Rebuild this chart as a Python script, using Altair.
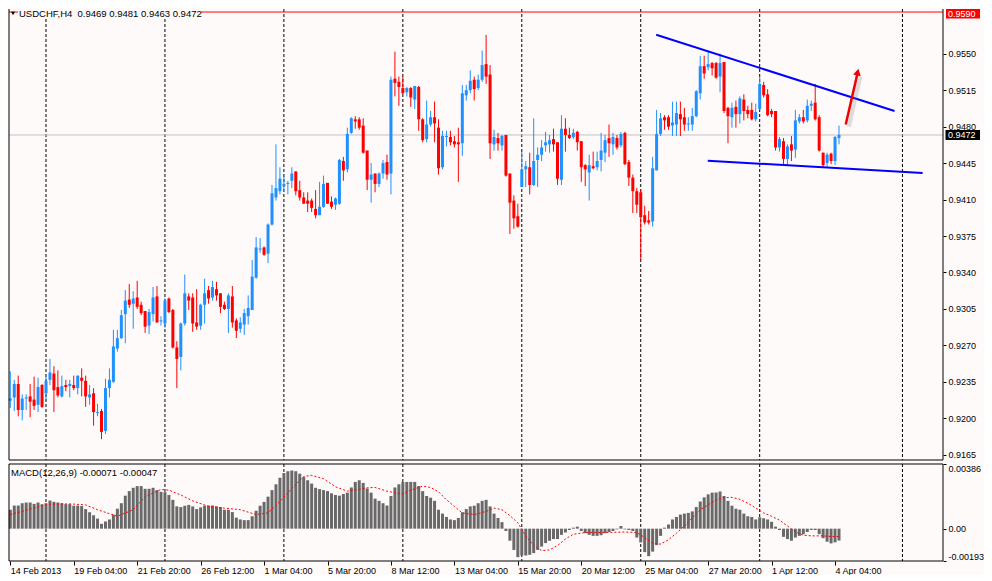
import altair as alt
import pandas as pd

BG = "#FFFAFA"
FONT = "Liberation Sans"
BULL = "#1E90FF"
BEAR = "#FF0000"
HIST = "#696969"

SYMBOL = "USDCHF,H4"
INDICATOR = "MACD(12,26,9)"

OPEN = [
    0.9217, 0.9220, 0.9233, 0.9208, 0.9219, 0.9221, 0.9218, 0.9213, 0.9232, 0.9224,
    0.9237, 0.9243, 0.9230, 0.9221, 0.9232, 0.9231, 0.9232, 0.9229, 0.9239, 0.9236,
    0.9220, 0.9224, 0.9205, 0.9207, 0.9188, 0.9229, 0.9235, 0.9267, 0.9277, 0.9300,
    0.9314, 0.9310, 0.9316, 0.9309, 0.9303, 0.9289, 0.9300, 0.9317, 0.9293, 0.9291,
    0.9315, 0.9304, 0.9268, 0.9259, 0.9291, 0.9317, 0.9316, 0.9292, 0.9289, 0.9309,
    0.9323, 0.9316, 0.9324, 0.9320, 0.9309, 0.9305, 0.9317, 0.9294, 0.9286, 0.9290,
    0.9298, 0.9304, 0.9335, 0.9362, 0.9364, 0.9358, 0.9386, 0.9412, 0.9418, 0.9423,
    0.9425, 0.9428, 0.9437, 0.9419, 0.9412, 0.9409, 0.9409, 0.9401, 0.9395, 0.9403,
    0.9426, 0.9408, 0.9405, 0.9406, 0.9447, 0.9439, 0.9474, 0.9487, 0.9487, 0.9481,
    0.9457, 0.9429, 0.9435, 0.9425, 0.9435, 0.9446, 0.9435, 0.9526, 0.9523, 0.9517,
    0.9513, 0.9517, 0.9506, 0.9518, 0.9487, 0.9468, 0.9482, 0.9489, 0.9479, 0.9441,
    0.9470, 0.9470, 0.9466, 0.9465, 0.9464, 0.9510, 0.9515, 0.9525, 0.9517, 0.9525,
    0.9540, 0.9530, 0.9463, 0.9469, 0.9462, 0.9472, 0.9435, 0.9409, 0.9394, 0.9422,
    0.9439, 0.9441, 0.9424, 0.9448, 0.9453, 0.9462, 0.9463, 0.9468, 0.9465, 0.9429,
    0.9478, 0.9472, 0.9470, 0.9475, 0.9466, 0.9443, 0.9436, 0.9442, 0.9441, 0.9448,
    0.9455, 0.9469, 0.9463, 0.9469, 0.9462, 0.9474, 0.9446, 0.9431, 0.9418, 0.9417,
    0.9395, 0.9390, 0.9389, 0.9438, 0.9473, 0.9489, 0.9489, 0.9481, 0.9482, 0.9492,
    0.9489, 0.9482, 0.9482, 0.9490, 0.9512, 0.9538, 0.9537, 0.9541, 0.9541, 0.9528,
    0.9542, 0.9498, 0.9489, 0.9499, 0.9492, 0.9506, 0.9496, 0.9496, 0.9487, 0.9497,
    0.9520, 0.9511, 0.9495, 0.9495, 0.9460, 0.9466, 0.9449, 0.9463, 0.9458, 0.9485,
    0.9489, 0.9486, 0.9500, 0.9503, 0.9489, 0.9455, 0.9445, 0.9454, 0.9447, 0.9469,
]
HIGH = [
    0.9245, 0.9237, 0.9241, 0.9223, 0.9223, 0.9233, 0.9240, 0.9239, 0.9233, 0.9241,
    0.9257, 0.9250, 0.9246, 0.9241, 0.9237, 0.9237, 0.9241, 0.9241, 0.9248, 0.9241,
    0.9232, 0.9229, 0.9214, 0.9209, 0.9238, 0.9248, 0.9285, 0.9285, 0.9304, 0.9323,
    0.9329, 0.9322, 0.9332, 0.9312, 0.9303, 0.9305, 0.9326, 0.9327, 0.9298, 0.9315,
    0.9316, 0.9305, 0.9274, 0.9292, 0.9338, 0.9320, 0.9320, 0.9324, 0.9310, 0.9334,
    0.9327, 0.9332, 0.9331, 0.9320, 0.9312, 0.9320, 0.9327, 0.9296, 0.9297, 0.9305,
    0.9318, 0.9352, 0.9374, 0.9373, 0.9365, 0.9387, 0.9424, 0.9463, 0.9441, 0.9434,
    0.9428, 0.9441, 0.9437, 0.9428, 0.9417, 0.9417, 0.9411, 0.9419, 0.9427, 0.9433,
    0.9426, 0.9413, 0.9412, 0.9449, 0.9451, 0.9479, 0.9489, 0.9490, 0.9489, 0.9488,
    0.9457, 0.9445, 0.9435, 0.9436, 0.9448, 0.9453, 0.9528, 0.9552, 0.9528, 0.9528,
    0.9518, 0.9518, 0.9519, 0.9519, 0.9488, 0.9505, 0.9495, 0.9504, 0.9487, 0.9476,
    0.9476, 0.9476, 0.9471, 0.9479, 0.9520, 0.9520, 0.9534, 0.9528, 0.9530, 0.9553,
    0.9568, 0.9539, 0.9477, 0.9474, 0.9472, 0.9472, 0.9435, 0.9414, 0.9406, 0.9456,
    0.9447, 0.9455, 0.9488, 0.9460, 0.9467, 0.9475, 0.9472, 0.9478, 0.9465, 0.9491,
    0.9488, 0.9479, 0.9478, 0.9476, 0.9466, 0.9444, 0.9453, 0.9456, 0.9456, 0.9474,
    0.9472, 0.9482, 0.9474, 0.9472, 0.9475, 0.9475, 0.9448, 0.9434, 0.9421, 0.9419,
    0.9404, 0.9399, 0.9451, 0.9496, 0.9493, 0.9491, 0.9491, 0.9504, 0.9504, 0.9504,
    0.9498, 0.9489, 0.9498, 0.9515, 0.9548, 0.9548, 0.9553, 0.9542, 0.9542, 0.9550,
    0.9542, 0.9499, 0.9503, 0.9505, 0.9509, 0.9511, 0.9500, 0.9503, 0.9502, 0.9528,
    0.9523, 0.9516, 0.9497, 0.9495, 0.9470, 0.9469, 0.9463, 0.9471, 0.9496, 0.9492,
    0.9496, 0.9506, 0.9505, 0.9521, 0.9491, 0.9455, 0.9455, 0.9455, 0.9471, 0.9481,
]
LOW = [
    0.9210, 0.9207, 0.9202, 0.9198, 0.9208, 0.9201, 0.9208, 0.9206, 0.9210, 0.9217,
    0.9232, 0.9206, 0.9220, 0.9220, 0.9226, 0.9220, 0.9227, 0.9223, 0.9221, 0.9211,
    0.9213, 0.9193, 0.9202, 0.9180, 0.9185, 0.9220, 0.9234, 0.9264, 0.9276, 0.9272,
    0.9306, 0.9286, 0.9305, 0.9299, 0.9282, 0.9281, 0.9293, 0.9292, 0.9289, 0.9287,
    0.9301, 0.9267, 0.9229, 0.9246, 0.9289, 0.9304, 0.9283, 0.9285, 0.9285, 0.9291,
    0.9310, 0.9313, 0.9313, 0.9301, 0.9304, 0.9282, 0.9287, 0.9277, 0.9282, 0.9280,
    0.9290, 0.9304, 0.9334, 0.9359, 0.9356, 0.9349, 0.9385, 0.9409, 0.9415, 0.9418,
    0.9415, 0.9421, 0.9414, 0.9409, 0.9406, 0.9398, 0.9398, 0.9392, 0.9395, 0.9402,
    0.9406, 0.9401, 0.9400, 0.9405, 0.9428, 0.9436, 0.9473, 0.9478, 0.9477, 0.9454,
    0.9419, 0.9407, 0.9417, 0.9422, 0.9430, 0.9429, 0.9415, 0.9509, 0.9500, 0.9511,
    0.9509, 0.9499, 0.9497, 0.9476, 0.9465, 0.9465, 0.9480, 0.9465, 0.9434, 0.9439,
    0.9461, 0.9462, 0.9460, 0.9427, 0.9452, 0.9505, 0.9512, 0.9505, 0.9515, 0.9523,
    0.9521, 0.9449, 0.9457, 0.9457, 0.9457, 0.9432, 0.9377, 0.9382, 0.9383, 0.9422,
    0.9422, 0.9415, 0.9423, 0.9422, 0.9447, 0.9456, 0.9455, 0.9456, 0.9424, 0.9424,
    0.9456, 0.9468, 0.9468, 0.9457, 0.9427, 0.9423, 0.9409, 0.9439, 0.9438, 0.9437,
    0.9446, 0.9451, 0.9453, 0.9458, 0.9460, 0.9443, 0.9423, 0.9397, 0.9397, 0.9352,
    0.9386, 0.9386, 0.9384, 0.9438, 0.9471, 0.9477, 0.9477, 0.9471, 0.9471, 0.9471,
    0.9476, 0.9476, 0.9476, 0.9489, 0.9506, 0.9526, 0.9534, 0.9529, 0.9526, 0.9513,
    0.9493, 0.9464, 0.9479, 0.9479, 0.9483, 0.9486, 0.9488, 0.9486, 0.9485, 0.9496,
    0.9508, 0.9490, 0.9489, 0.9457, 0.9456, 0.9444, 0.9443, 0.9447, 0.9450, 0.9483,
    0.9483, 0.9484, 0.9495, 0.9486, 0.9456, 0.9441, 0.9441, 0.9444, 0.9443, 0.9463,
]
CLOSE = [
    0.9219, 0.9233, 0.9208, 0.9219, 0.9220, 0.9216, 0.9212, 0.9230, 0.9211, 0.9236,
    0.9244, 0.9227, 0.9222, 0.9231, 0.9230, 0.9233, 0.9229, 0.9241, 0.9236, 0.9221,
    0.9223, 0.9206, 0.9206, 0.9187, 0.9229, 0.9237, 0.9269, 0.9277, 0.9299, 0.9313,
    0.9309, 0.9315, 0.9307, 0.9301, 0.9288, 0.9302, 0.9316, 0.9292, 0.9294, 0.9313,
    0.9302, 0.9268, 0.9257, 0.9291, 0.9320, 0.9313, 0.9291, 0.9288, 0.9309, 0.9320,
    0.9315, 0.9326, 0.9318, 0.9307, 0.9305, 0.9318, 0.9292, 0.9284, 0.9292, 0.9301,
    0.9306, 0.9336, 0.9364, 0.9363, 0.9357, 0.9386, 0.9416, 0.9421, 0.9430, 0.9425,
    0.9426, 0.9435, 0.9418, 0.9412, 0.9406, 0.9406, 0.9402, 0.9395, 0.9403, 0.9425,
    0.9406, 0.9403, 0.9411, 0.9448, 0.9438, 0.9473, 0.9488, 0.9485, 0.9479, 0.9455,
    0.9429, 0.9434, 0.9425, 0.9435, 0.9445, 0.9434, 0.9525, 0.9522, 0.9518, 0.9512,
    0.9517, 0.9508, 0.9519, 0.9487, 0.9467, 0.9482, 0.9489, 0.9483, 0.9440, 0.9471,
    0.9471, 0.9465, 0.9463, 0.9463, 0.9512, 0.9515, 0.9524, 0.9516, 0.9525, 0.9539,
    0.9528, 0.9464, 0.9470, 0.9464, 0.9471, 0.9433, 0.9407, 0.9392, 0.9384, 0.9439,
    0.9442, 0.9424, 0.9447, 0.9453, 0.9460, 0.9465, 0.9467, 0.9463, 0.9430, 0.9478,
    0.9472, 0.9469, 0.9474, 0.9465, 0.9441, 0.9439, 0.9443, 0.9440, 0.9447, 0.9457,
    0.9467, 0.9464, 0.9470, 0.9460, 0.9473, 0.9444, 0.9431, 0.9418, 0.9405, 0.9393,
    0.9388, 0.9388, 0.9440, 0.9473, 0.9488, 0.9486, 0.9480, 0.9484, 0.9493, 0.9487,
    0.9482, 0.9483, 0.9490, 0.9514, 0.9538, 0.9531, 0.9540, 0.9536, 0.9527, 0.9541,
    0.9495, 0.9490, 0.9498, 0.9492, 0.9507, 0.9495, 0.9492, 0.9487, 0.9494, 0.9521,
    0.9510, 0.9491, 0.9492, 0.9460, 0.9468, 0.9449, 0.9461, 0.9457, 0.9486, 0.9489,
    0.9485, 0.9500, 0.9502, 0.9487, 0.9457, 0.9443, 0.9453, 0.9447, 0.9470, 0.9472,
]
MACD = [
    0.00113, 0.00138, 0.00138, 0.00152, 0.00156, 0.00156, 0.00148, 0.00156, 0.00146, 0.00152,
    0.00168, 0.00160, 0.00156, 0.00152, 0.00146, 0.00146, 0.00137, 0.00138, 0.00135, 0.00117,
    0.00098, 0.00080, 0.00060, 0.00029, 0.00043, 0.00055, 0.00084, 0.00119, 0.00152, 0.00197,
    0.00224, 0.00244, 0.00254, 0.00254, 0.00238, 0.00238, 0.00244, 0.00230, 0.00220, 0.00218,
    0.00201, 0.00172, 0.00133, 0.00129, 0.00137, 0.00142, 0.00133, 0.00117, 0.00127, 0.00137,
    0.00138, 0.00138, 0.00133, 0.00129, 0.00113, 0.00113, 0.00099, 0.00066, 0.00055, 0.00051,
    0.00051, 0.00074, 0.00107, 0.00137, 0.00160, 0.00191, 0.00230, 0.00265, 0.00304, 0.00332,
    0.00343, 0.00347, 0.00343, 0.00328, 0.00308, 0.00289, 0.00269, 0.00244, 0.00236, 0.00230,
    0.00224, 0.00211, 0.00201, 0.00197, 0.00207, 0.00215, 0.00246, 0.00279, 0.00289, 0.00273,
    0.00240, 0.00215, 0.00179, 0.00166, 0.00152, 0.00138, 0.00195, 0.00246, 0.00265, 0.00279,
    0.00279, 0.00279, 0.00279, 0.00254, 0.00224, 0.00195, 0.00185, 0.00166, 0.00113, 0.00090,
    0.00070, 0.00055, 0.00051, 0.00064, 0.00098, 0.00117, 0.00133, 0.00137, 0.00152, 0.00166,
    0.00172, 0.00133, 0.00090, 0.00064, 0.00039, -0.00014, -0.00072, -0.00127, -0.00170, -0.00160,
    -0.00160, -0.00156, -0.00146, -0.00127, -0.00107, -0.00086, -0.00072, -0.00062, -0.00062, -0.00037,
    -0.00023, -0.00008, 0.00006, 0.00012, -0.00014, -0.00027, -0.00037, -0.00043, -0.00043, -0.00039,
    -0.00027, -0.00020, -0.00014, -0.00004, 0.00016, -0.00004, -0.00008, -0.00014, -0.00053, -0.00082,
    -0.00140, -0.00164, -0.00137, -0.00098, -0.00043, 0.00006, 0.00025, 0.00055, 0.00070, 0.00084,
    0.00090, 0.00094, 0.00103, 0.00129, 0.00162, 0.00187, 0.00205, 0.00215, 0.00216, 0.00222,
    0.00195, 0.00166, 0.00137, 0.00119, 0.00113, 0.00090, 0.00074, 0.00070, 0.00055, 0.00068,
    0.00062, 0.00055, 0.00041, 0.00012, -0.00008, -0.00049, -0.00062, -0.00072, -0.00053, -0.00043,
    -0.00033, -0.00020, -0.00008, -0.00008, -0.00033, -0.00057, -0.00078, -0.00088, -0.00082, -0.00071,
]
SIG_BAR = [0, 8, 10, 15, 19, 22, 27, 31, 34, 38, 40, 43, 46, 50, 54, 58, 62, 65, 68, 71,
           74, 76, 79, 82, 85, 88, 90, 92, 95, 97, 99, 101, 104, 106, 108, 110, 112, 114, 117, 120,
           122, 124, 126, 128, 130, 132, 134, 136, 138, 140, 142, 145, 150, 155, 158, 160, 162, 164, 166, 168,
           170, 172, 174, 176, 178, 180, 182, 184, 186, 188, 190, 192, 194, 196, 198, 200, 202, 205, 207, 209]
SIG_VAL = [0.00084, 0.00137, 0.00146, 0.00148, 0.00142, 0.00113, 0.00074, 0.00113, 0.00191, 0.00234,
           0.00230, 0.00201, 0.00166, 0.00133, 0.00123, 0.00113, 0.00084, 0.00094, 0.00162, 0.00240,
           0.00312, 0.00318, 0.00298, 0.00250, 0.00224, 0.00235, 0.00244, 0.00246, 0.00224, 0.00214,
           0.00207, 0.00230, 0.00254, 0.00246, 0.00220, 0.00172, 0.00133, 0.00094, 0.00084, 0.00103,
           0.00123, 0.00113, 0.00078, 0.00035, -0.00043, -0.00101, -0.00131, -0.00127, -0.00101, -0.00062,
           -0.00033, -0.00023, -0.00023, -0.00020, -0.00023, -0.00053, -0.00088, -0.00092, -0.00066, -0.00027,
           0.00016, 0.00064, 0.00113, 0.00142, 0.00172, 0.00185, 0.00187, 0.00175, 0.00152, 0.00123,
           0.00094, 0.00074, 0.00051, 0.00016, -0.00020, -0.00039, -0.00043, -0.00043, -0.00047, -0.00047]

XTICK_BAR = [0, 16, 32, 48, 64, 80, 96, 112, 128, 144, 160, 176, 192, 208]
XTICK_LABEL = ["14 Feb 2013", "19 Feb 04:00", "21 Feb 20:00", "26 Feb 12:00", "1 Mar 04:00",
               "5 Mar 20:00", "8 Mar 12:00", "13 Mar 04:00", "15 Mar 20:00", "20 Mar 12:00",
               "25 Mar 04:00", "27 Mar 20:00", "1 Apr 12:00", "4 Apr 04:00"]
PRICE_TICKS = [0.9165, 0.9200, 0.9235, 0.9270, 0.9305, 0.9340, 0.9375, 0.9410,
               0.9445, 0.9480, 0.9515, 0.9550]
MACD_TICKS = [-0.00193, 0.0, 0.00386]
MACD_TICK_LABEL = ["-0.00193", "0.00", "0.00386"]
GRID_BAR = [9, 39, 69, 99, 129, 159, 189, 225]
LEVEL_PRICE = 0.9590
TREND_ID = ["upper", "upper", "lower", "lower"]
TREND_BAR = [162.9, 223.0, 175.9, 230.1]
TREND_PRICE = [0.95682, 0.94950, 0.94473, 0.94355]
ARROW_BAR = [210.7, 213.6]
ARROW_PRICE = [0.9482, 0.9530]
ARROW_HEAD_BAR = [213.72]
ARROW_HEAD_PRICE = [0.95323]

X_DOMAIN = [-0.33, 235.23]
P_DOMAIN = [0.91600, 0.95929]
M_DOMAIN = [-0.00193, 0.00386]
W = 934
H_MAIN = 451
H_MACD = 97

n = len(OPEN)
cand = pd.DataFrame({"i": list(range(n)), "o": OPEN, "h": HIGH, "l": LOW, "c": CLOSE})
cand["col"] = [BULL if c >= o else BEAR for o, c in zip(OPEN, CLOSE)]
wick_df = pd.DataFrame({"i": cand["i"], "p": cand["l"], "p2": cand["h"], "col": cand["col"]})
body_df = pd.DataFrame({"i": cand["i"], "p": cand["o"], "p2": cand["c"], "col": cand["col"]})
grid_df = pd.DataFrame({"i": GRID_BAR})
bid_df = pd.DataFrame({"p": [CLOSE[-1]]})
level_df = pd.DataFrame({"p": [LEVEL_PRICE]})
trend_df = pd.DataFrame({"id": TREND_ID, "i": TREND_BAR, "p": TREND_PRICE})
arrow_df = pd.DataFrame({"i": ARROW_BAR, "p": ARROW_PRICE})
shadow_df = pd.DataFrame({"i": [b + 0.8 for b in ARROW_BAR], "p": [p - 0.0002 for p in ARROW_PRICE]})
head_df = pd.DataFrame({"i": ARROW_HEAD_BAR, "p": ARROW_HEAD_PRICE})
one = pd.DataFrame({"k": [0]})

hist_df = pd.DataFrame({"i": list(range(n)), "v": MACD, "zero": [0.0] * n})
sig_df = pd.DataFrame({"i": SIG_BAR, "v": SIG_VAL})

xs = alt.Scale(domain=X_DOMAIN, nice=False, zero=False)
ps = alt.Scale(domain=P_DOMAIN, nice=False, zero=False)
ms = alt.Scale(domain=M_DOMAIN, nice=False, zero=False)

price_axis = alt.Axis(orient="right", values=PRICE_TICKS, format=".4f", title=None,
                      tickSize=3, labelPadding=2, labelFlush=False)
XM = alt.X("i:Q", scale=xs, axis=None)
PY = alt.Y("p:Q", scale=ps, axis=price_axis)

xexpr = " : ".join(f"datum.value == {b} ? '{l}'" for b, l in zip(XTICK_BAR, XTICK_LABEL)) + " : ''"
mexpr = " : ".join(f"datum.value == {v} ? '{l}'" for v, l in zip(MACD_TICKS, MACD_TICK_LABEL)) + " : ''"
XB = alt.X("i:Q", scale=xs, axis=alt.Axis(values=XTICK_BAR, labelExpr=xexpr, title=None,
                                            labelAlign="left", labelBaseline="top",
                                            tickSize=4, labelPadding=1, labelFlush=False,
                                            labelOverlap=False))
MY = alt.Y("v:Q", scale=ms, axis=alt.Axis(orient="right", values=MACD_TICKS, labelExpr=mexpr,
                                          title=None, tickSize=3, labelPadding=2, labelFlush=True))

col = alt.Color("col:N", scale=None)


def frame(sides):
    """Black panel border lines drawn as rules on the given sides."""
    out = []
    for s in sides:
        if s == "left":
            enc = dict(x=alt.value(0))
        elif s == "right":
            enc = dict(x=alt.value(W))
        elif s == "top":
            enc = dict(y=alt.value(0))
        else:
            enc = dict(y=alt.value("height"))
        out.append(alt.Chart(one).mark_rule(color="black", strokeWidth=1).encode(**enc))
    return out


grid_main = alt.Chart(grid_df).mark_rule(color="black", strokeDash=[3, 2], strokeWidth=1).encode(x=XM)
bid_line = alt.Chart(bid_df).mark_rule(color="#C0C0C0", strokeWidth=1).encode(y=PY)
level_line = alt.Chart(level_df).mark_rule(color="#FF0000", strokeWidth=1).encode(y=PY)
wicks = alt.Chart(wick_df).mark_rule(strokeWidth=1).encode(x=XM, y=PY, y2="p2:Q", color=col)
bodies = alt.Chart(body_df).mark_rule(strokeWidth=3).encode(x=XM, y=PY, y2="p2:Q", color=col)
trends = alt.Chart(trend_df).mark_line(color="#0000FF", strokeWidth=2).encode(x=XM, y=PY, detail="id:N")
shadow = alt.Chart(shadow_df).mark_line(color="#808080", strokeWidth=4, opacity=0.25).encode(x=XM, y=PY)
arrow = alt.Chart(arrow_df).mark_line(color="#F00000", strokeWidth=2.5).encode(x=XM, y=PY)
head = alt.Chart(head_df).mark_point(shape="triangle-up", filled=True, color="#F00000",
                                     size=60, angle=13, opacity=1).encode(x=XM, y=PY)

title_bg = alt.Chart(one).mark_rect(color=BG).encode(
    x=alt.value(9), x2=alt.value(192), y=alt.value(0), y2=alt.value(9))
title_tri = alt.Chart(one).mark_point(shape="triangle-down", filled=True, color="black",
                                      size=16, opacity=1).encode(x=alt.value(4), y=alt.value(4.5))
title_text = alt.Chart(one).mark_text(
    align="left", baseline="middle", font=FONT, fontSize=9.5, color="black").encode(
    x=alt.value(10), y=alt.value(4.5),
    text=alt.value(f"{SYMBOL}\u00a0 {OPEN[-1]:.4f} {HIGH[-1]:.4f} {LOW[-1]:.4f} {CLOSE[-1]:.4f}"))

lvl_box = alt.Chart(one).mark_rect(color="#FF0000").encode(
    x=alt.value(W + 3), x2=alt.value(W + 37), y=alt.value(0), y2=alt.value(9.5))
lvl_text = alt.Chart(one).mark_text(
    align="left", baseline="middle", font=FONT, fontSize=9, color="white").encode(
    x=alt.value(W + 5), y=alt.value(5), text=alt.value(f"{LEVEL_PRICE:.4f}"))
bid_box = alt.Chart(one).mark_rect(color="black").encode(
    x=alt.value(W + 2.5), x2=alt.value(W + 37), y=alt.value(121), y2=alt.value(131))
bid_text = alt.Chart(one).mark_text(
    align="left", baseline="middle", font=FONT, fontSize=9, color="white").encode(
    x=alt.value(W + 5), y=alt.value(126), text=alt.value(f"{CLOSE[-1]:.4f}"))

main = alt.layer(
    grid_main, bid_line, level_line, wicks, bodies, trends, shadow, arrow, head,
    title_bg, title_tri, title_text, lvl_box, lvl_text, bid_box, bid_text,
    *frame(["left", "right", "bottom"]),
).properties(width=W, height=H_MAIN)

grid_macd = alt.Chart(grid_df).mark_rule(color="black", strokeDash=[3, 2], strokeWidth=1).encode(x=XB)
hist = alt.Chart(hist_df).mark_rule(strokeWidth=3, color=HIST).encode(x=XB, y=MY, y2="zero:Q")
sig = alt.Chart(sig_df).mark_line(color="#FF0000", strokeWidth=1, strokeDash=[2, 2]).encode(x=XB, y=MY)
macd_title = alt.Chart(one).mark_text(
    align="left", baseline="middle", font=FONT, fontSize=9.5, color="black").encode(
    x=alt.value(2), y=alt.value(9),
    text=alt.value(f"{INDICATOR} {MACD[-1]:.5f} {SIG_VAL[-1]:.5f}"))

macd = alt.layer(
    grid_macd, hist, sig, macd_title, *frame(["left", "right", "top", "bottom"])
).properties(width=W, height=H_MACD)

chart = alt.vconcat(main, macd, spacing=2).properties(
    background=BG, padding=0
).configure_view(
    strokeWidth=0, fill=BG
).configure_axis(
    labelFont=FONT, labelFontSize=9, labelColor="black", tickColor="black",
    domain=False, grid=False, ticks=True, tickWidth=1
)

chart.save("out.html", embed_options={"renderer": "svg", "actions": False})
